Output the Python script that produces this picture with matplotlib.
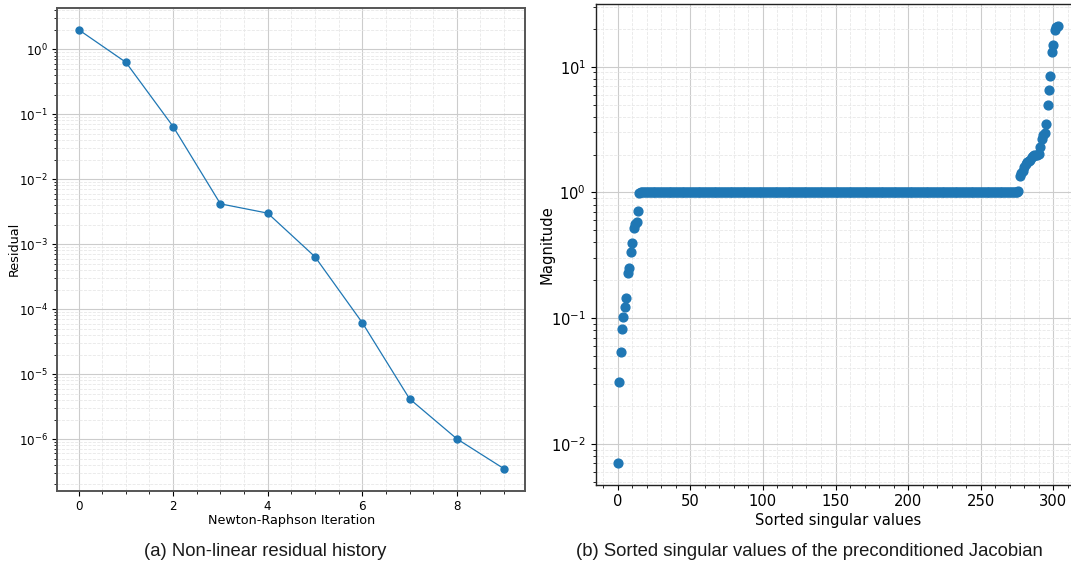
import matplotlib
matplotlib.use("Agg")
import matplotlib.pyplot as plt

# (a) Newton-Raphson residual history
iterations = [0, 1, 2, 3, 4, 5, 6, 7, 8, 9]
residuals = [2.0, 0.63, 0.0645, 0.00417, 0.0030, 6.4e-4, 6.2e-5, 4.17e-6, 1.01e-6, 3.49e-7]

# (b) sorted singular values of the preconditioned Jacobian
sv_low = [0.00703, 0.0308, 0.054, 0.082, 0.102, 0.122, 0.144, 0.228, 0.249,
          0.336, 0.398, 0.518, 0.56, 0.58, 0.707]
sv_plateau = [0.99] + [1.0] * 260 + [1.02]
sv_high = [1.35, 1.42, 1.48, 1.60, 1.68, 1.73, 1.78, 1.82, 1.90, 1.95, 1.98,
           2.0, 2.0, 2.02, 2.30, 2.68, 2.85, 2.97, 3.47, 4.93, 6.48, 8.42,
           13.1, 15.0, 19.5, 20.5, 21.0]
singular_values = sv_low + sv_plateau + sv_high
sv_index = list(range(len(singular_values)))

blue = '#1f77b4'

fig = plt.figure(figsize=(10.71, 5.66), dpi=100)


def style_axes(ax, fs, spine_color, spine_lw):
    ax.set_yscale('log')
    ax.minorticks_on()
    ax.grid(True, which='major', color='#cccccc', lw=0.8)
    ax.grid(True, which='minor', color='#e8e8e8', lw=0.6, ls='--')
    ax.set_axisbelow(True)
    ax.tick_params(labelsize=fs)
    ax.tick_params(axis='x', pad=3)
    for sp in ax.spines.values():
        sp.set_color(spine_color)
        sp.set_linewidth(spine_lw)


ax1 = fig.add_axes([0.0535, 0.1330, 0.4370, 0.8534])
ax1.plot(iterations, residuals, '-o', color=blue, lw=0.9, ms=5)
style_axes(ax1, 8.6, '#555555', 1.4)
ax1.set_xlabel('Newton-Raphson Iteration', fontsize=9.2)
ax1.set_ylabel('Residual', fontsize=9.2)
ax1.yaxis.set_label_coords(-0.078, 0.5)
ax1.xaxis.set_label_coords(0.5, -0.048)

ax2 = fig.add_axes([0.5562, 0.1431, 0.4519, 0.8493])
ax2.scatter(sv_index, singular_values, s=40, color=blue, zorder=3)
style_axes(ax2, 10.6, '#222222', 1.0)
ax2.set_xlabel('Sorted singular values', fontsize=10.6)
ax2.set_ylabel('Magnitude', fontsize=10.6)
ax2.yaxis.set_label_coords(-0.0855, 0.5)
ax2.xaxis.set_label_coords(0.5, -0.058)

cap = dict(ha='center', va='center', fontsize=13.3, family='Liberation Sans', color='#1a1a1a')
fig.text(265.5 / 1071, 1 - 552 / 566, '(a) Non-linear residual history', **cap)
fig.text(809 / 1071, 1 - 552 / 566, '(b) Sorted singular values of the preconditioned Jacobian', **cap)

fig.savefig('out.png', dpi=100)
